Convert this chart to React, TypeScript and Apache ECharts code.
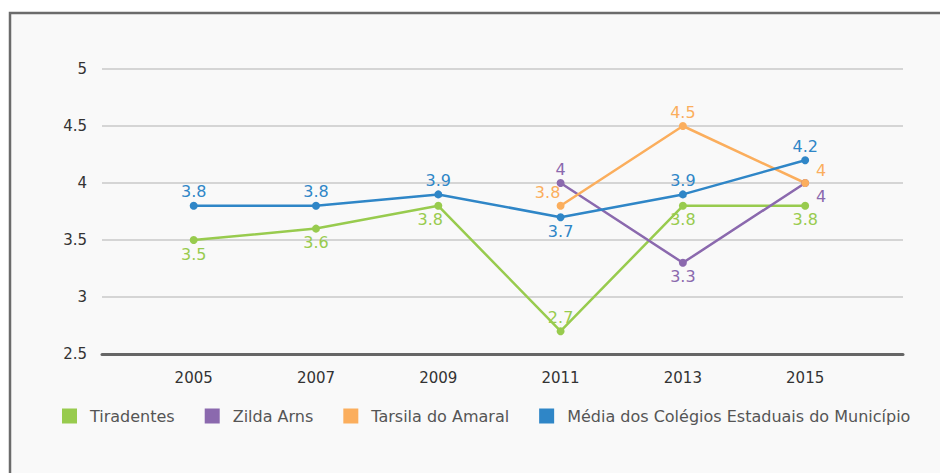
import React, { useEffect, useRef } from "react";
import * as echarts from "echarts";

const years = [2005, 2007, 2009, 2011, 2013, 2015];
const yTicks = [2.5, 3, 3.5, 4, 4.5, 5];

const tiradentes = [3.5, 3.6, 3.8, 2.7, 3.8, 3.8];
const zildaYears = [2011, 2013, 2015];
const zilda = [4, 3.3, 4];
const tarsilaYears = [2011, 2013, 2015];
const tarsila = [3.8, 4.5, 4];
const media = [3.8, 3.8, 3.9, 3.7, 3.9, 4.2];

const seriesNames = [
  "Tiradentes",
  "Zilda Arns",
  "Tarsila do Amaral",
  "Média dos Colégios Estaduais do Município",
];
const colors = ["#98CB4E", "#8B69AE", "#FBAE5D", "#2F86C7"];

// label placement (style only)
const tiraPos = ["bottom", "bottom", "bottom", "top", "bottom", "bottom"];
const tiraOff = [[0, 0], [0, 0], [-8, 0], [0, 0], [0, 0], [0, 0]];
const zildaPos = ["top", "bottom", "bottom"];
const zildaOff = [[0, 0], [0, 0], [16, -1]];
const tarsilaPos = ["top", "top", "top"];
const tarsilaOff = [[-13, 1], [0, 0], [16, 1]];
const mediaPos = ["top", "top", "top", "bottom", "top", "top"];

const FONT = "'DejaVu Sans', 'Noto Sans', sans-serif";

function build(xs: number[], ys: number[], pos: string[], off?: number[][]) {
  return xs.map((x, i) => ({
    value: [x, ys[i]],
    label: { position: pos[i], offset: off ? off[i] : [0, 0] },
  }));
}

export default function App() {
  const ref = useRef<HTMLDivElement>(null);
  useEffect(() => {
    if (!ref.current) return;
    const chart = echarts.init(ref.current, null, { renderer: "svg" });
    const mk = (name: string, color: string, data: any[]) => ({
      name,
      type: "line",
      data,
      symbol: "circle",
      symbolSize: 8,
      color,
      lineStyle: { width: 2.5, color },
      itemStyle: { color },
      label: {
        show: true,
        color,
        fontSize: 16,
        fontFamily: FONT,
        distance: 2,
      },
      z: 3,
    });
    chart.setOption({
      animation: false,
      backgroundColor: "#ffffff",
      graphic: [
        {
          type: "rect",
          z: -10,
          silent: true,
          shape: { x: 10, y: 13, width: 1000, height: 1000 },
          style: { fill: "#f9f9f9", stroke: "#6b6b6b", lineWidth: 2.5 },
        },
      ],
      grid: { left: 102, right: 37, top: 69, bottom: 119 },
      legend: {
        data: seriesNames.map((n, i) => ({ name: n, itemStyle: { color: colors[i] } })),
        left: 57,
        top: 403,
        icon: "rect",
        itemWidth: 15,
        itemHeight: 15,
        itemGap: 30,
        textStyle: {
          color: "#555",
          fontSize: 16,
          fontFamily: FONT,
          padding: [0, 0, 0, 8],
        },
      },
      xAxis: {
        type: "value",
        min: 2003.5,
        max: 2016.6,
        splitLine: { show: false },
        axisLine: { show: true, lineStyle: { color: "#666", width: 3 } },
        axisTick: { show: false },
        axisLabel: {
          customValues: years,
          formatter: (v: number) => String(v),
          color: "#333",
          fontSize: 15,
          fontFamily: FONT,
          margin: 16,
        },
      },
      yAxis: {
        type: "value",
        min: yTicks[0],
        max: yTicks[yTicks.length - 1],
        interval: 0.5,
        axisLine: { show: false },
        axisTick: { show: false },
        splitLine: { lineStyle: { color: "#c8c8c8", width: 1.5 } },
        axisLabel: {
          color: "#333",
          fontSize: 15,
          fontFamily: FONT,
          margin: 15,
        },
      },
      series: [
        mk(seriesNames[0], colors[0], build(years, tiradentes, tiraPos, tiraOff)),
        mk(seriesNames[1], colors[1], build(zildaYears, zilda, zildaPos, zildaOff)),
        mk(seriesNames[2], colors[2], build(tarsilaYears, tarsila, tarsilaPos, tarsilaOff)),
        mk(seriesNames[3], colors[3], build(years, media, mediaPos)),
      ],
    });
    return () => chart.dispose();
  }, []);
  return (
    <div
      ref={ref}
      style={{ position: "fixed", left: 0, top: 0, width: 940, height: 473 }}
    />
  );
}
